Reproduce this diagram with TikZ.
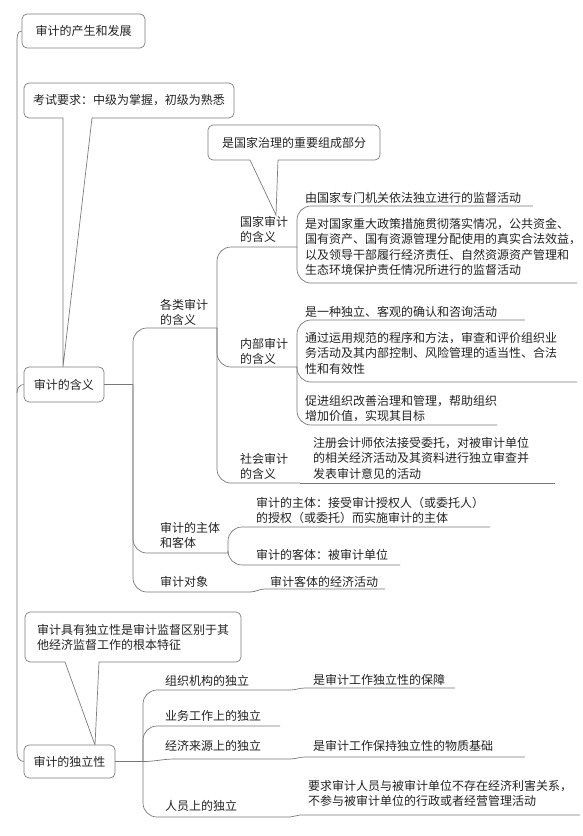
\documentclass[tikz,border=0pt]{standalone}
\usepackage{fontspec}
\setmainfont{Noto Sans CJK SC}
\definecolor{linegray}{RGB}{120,120,120}
\definecolor{boxgray}{RGB}{125,125,125}
\definecolor{txt}{RGB}{35,35,35}
\newcommand\mmfs{\fontsize{12pt}{15.4pt}\selectfont}
\begin{document}
\begin{tikzpicture}[x=1pt,y=-1pt,
  conn/.style={draw=linegray, line width=0.7pt, rounded corners=14pt},
  ln/.style={draw=linegray, line width=0.7pt},
  boxln/.style={draw=boxgray, line width=0.7pt},
  topbox/.style={draw=boxgray, line width=0.7pt, rounded corners=5pt, fill=white, inner sep=0pt, font=\mmfs, text=txt},
  lbl/.style={anchor=north west, inner sep=0pt, align=left, font=\mmfs, text=txt},
  ctr/.style={anchor=center, inner sep=0pt, font=\mmfs, text=txt}]
\useasboundingbox (0,0) rectangle (583,836);
\fill[white] (0,0) rectangle (583,836);

% callout outlines
\draw[boxln] (63,367) -- (92,118) [rounded corners=5pt] -- (234,118) -- (234,83) -- (24,83) -- (24,118) [sharp corners] -- (63,118) -- cycle;
\draw[boxln] (276,215) -- (278,160) [rounded corners=5pt] -- (380,160) -- (380,125) -- (208,125) -- (208,160) [sharp corners] -- (250,160) -- cycle;
\draw[boxln] (95,745) -- (99,662) [rounded corners=5pt] -- (241,662) -- (241,612) -- (25,612) -- (25,662) [sharp corners] -- (65,662) -- cycle;
\node[ctr] (kt) at (129,100.5) {考试要求：中级为掌握，初级为熟悉};
\node[ctr] (gz) at (294,142.5) {是国家治理的重要组成部分};
\node[lbl] (dl) at (37,624) {审计具有独立性是审计监督区别于其\\他经济监督工作的根本特征};

% main topic boxes
\node[topbox, minimum width=123pt, minimum height=34pt] (t1) at (83.5,31) {审计的产生和发展};
\node[topbox, minimum width=80pt, minimum height=35pt] (t2) at (64,384.5) {审计的含义};
\node[topbox, minimum width=91pt, minimum height=33pt] (t3) at (69.5,761.5) {审计的独立性};

% spine
\draw[ln] (t1.west) to[out=180,in=90] (17,42) -- (17,752) to[out=-90,in=180] (t3.west);
\draw[ln] (17,393) to[out=90,in=180] (t2.west);

% ---- 审计的含义
\coordinate (J1) at (133,384.5);
\draw[ln] (t2.east) -- (J1);

\node[lbl] (gl) at (160,299) {各类审计\\的含义};
\coordinate (gl-e) at (217,328);
\draw[conn] (J1) |- (gl-e);

\node[lbl] (zt) at (160,522) {审计的主体\\和客体};
\coordinate (zt-e) at (228,553);
\draw[conn] (J1) |- (zt-e);

\node[lbl] (dx) at (160,576) {审计对象};
\coordinate (dx-e) at (250,592);
\draw[conn] (J1) |- (dx-e);
\node[lbl] (dxc) at (270,576) {审计客体的经济活动};
\coordinate (dxc-e) at (385,589);
\draw[ln] (dx-e) to[out=0,in=180] (265,589) -- (dxc-e);

% level 2 under 各类审计的含义
\node[lbl] (gj) at (240,216) {国家审计\\的含义};
\coordinate (gj-e) at (297,247);
\draw[conn] (gl-e) |- (gj-e);
\node[lbl] (nb) at (240,338) {内部审计\\的含义};
\coordinate (nb-e) at (297,367);
\draw[conn] (gl-e) |- (nb-e);
\node[lbl] (sh) at (240,453) {社会审计\\的含义};
\coordinate (sh-e) at (300,483);
\draw[conn] (gl-e) |- (sh-e);

% 国家审计
\node[lbl] (a1) at (305,192) {由国家专门机关依法独立进行的监督活动};
\coordinate (a1-e) at (533,206);
\draw[conn] (gj-e) |- (a1-e);
\node[lbl] (a2) at (305,218) {是对国家重大政策措施贯彻落实情况，公共资金、\\国有资产、国有资源管理分配使用的真实合法效益，\\以及领导干部履行经济责任、自然资源资产管理和\\生态环境保护责任情况所进行的监督活动};
\coordinate (a2-e) at (577,283);
\draw[conn] (gj-e) |- (a2-e);

% 内部审计
\node[lbl] (n1) at (305,306) {是一种独立、客观的确认和咨询活动};
\coordinate (n1-e) at (525,320);
\draw[conn] (nb-e) |- (n1-e);
\node[lbl] (n2) at (305,332) {通过运用规范的程序和方法，审查和评价组织业\\务活动及其内部控制、风险管理的适当性、合法\\性和有效性};
\coordinate (n2-e) at (577,382);
\draw[conn] (nb-e) |- (n2-e);
\node[lbl] (n3) at (305,395) {促进组织改善治理和管理，帮助组织\\增加价值，实现其目标};
\coordinate (n3-e) at (497,425);
\draw[conn] (nb-e) |- (n3-e);

% 社会审计
\node[lbl] (s1) at (313,437) {注册会计师依法接受委托，对被审计单位\\的相关经济活动及其资料进行独立审查并\\发表审计意见的活动};
\coordinate (s1-e) at (555,483);
\draw[ln] (sh-e) -- (s1-e);

% 主体客体
\node[lbl] (z1) at (256,497) {审计的主体：接受审计授权人（或委托人）\\的授权（或委托）而实施审计的主体};
\coordinate (z1-e) at (490,527);
\draw[conn] (zt-e) |- (z1-e);
\node[lbl] (z2) at (256,549) {审计的客体：被审计单位};
\coordinate (z2-e) at (400,565);
\draw[conn] (zt-e) |- (z2-e);

% ---- 审计的独立性
\coordinate (J7) at (143,761.5);
\draw[ln] (t3.east) -- (J7);

\node[lbl] (i1) at (165,675) {组织机构的独立};
\coordinate (i1-e) at (290,690);
\draw[conn] (J7) |- (i1-e);
\node[lbl] (i1c) at (313,674) {是审计工作独立性的保障};
\coordinate (i1c-e) at (455,688);
\draw[ln] (i1-e) to[out=0,in=180] (305,688) -- (i1c-e);

\node[lbl] (i2) at (165,710) {业务工作上的独立};
\coordinate (i2-e) at (280,726);
\draw[conn] (J7) |- (i2-e);

\node[lbl] (i3) at (165,740) {经济来源上的独立};
\coordinate (i3-e) at (290,759);
\draw[ln] (J7) to[out=0,in=180] (175,759) -- (i3-e);
\node[lbl] (i3c) at (313,740) {是审计工作保持独立性的物质基础};
\coordinate (i3c-e) at (525,757);
\draw[ln] (i3-e) to[out=0,in=180] (305,757) -- (i3c-e);

\node[lbl] (i4) at (165,800) {人员上的独立};
\coordinate (i4-e) at (290,817);
\draw[conn] (J7) |- (i4-e);
\node[lbl] (i4c) at (308,780) {要求审计人员与被审计单位不存在经济利害关系，\\不参与被审计单位的行政或者经营管理活动};
\coordinate (i4c-e) at (580,815);
\draw[ln] (i4-e) to[out=0,in=180] (300,815) -- (i4c-e);
\end{tikzpicture}
\end{document}
